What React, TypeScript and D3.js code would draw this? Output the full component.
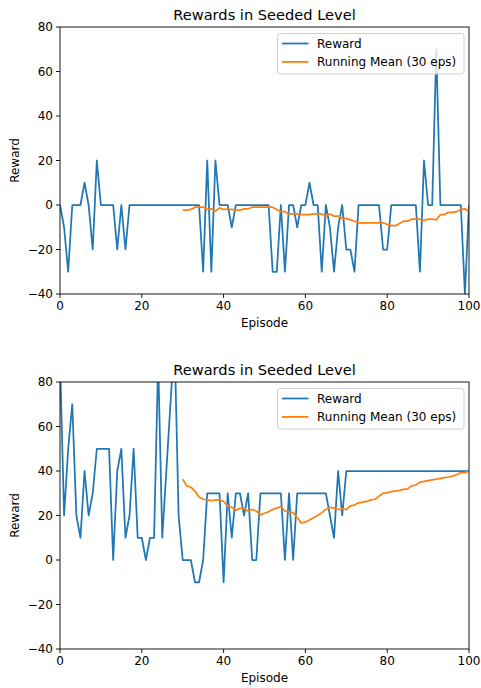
import { useEffect } from 'react'
import * as d3 from 'd3'

const title = 'Rewards in Seeded Level'
const xLabel = 'Episode'
const yLabel = 'Reward'
const legendLabels = ['Reward', 'Running Mean (30 eps)']
const xTicks = [0, 20, 40, 60, 80, 100]
const yTicks = [-40, -20, 0, 20, 40, 60, 80]
const meanStart = 30

// episode 0..100
const topReward = [
  0, -10, -30, 0, 0, 0, 10, 0, -20, 20,
  0, 0, 0, 0, -20, 0, -20, 0, 0, 0,
  0, 0, 0, 0, 0, 0, 0, 0, 0, 0,
  0, 0, 0, 0, 0, -30, 20, -30, 20, 0,
  0, 0, -10, 0, 0, 0, 0, 0, 0, 0,
  0, 0, -30, -30, 0, -30, 0, 0, -10, 0,
  0, 10, 0, 0, -30, 0, -10, -30, -10, 0,
  -20, -20, -30, 0, 0, 0, 0, 0, 0, -20,
  -20, 0, 0, 0, 0, 0, 0, 0, -30, 20,
  0, 0, 70, 0, 0, 0, 0, 0, 0, -40,
  0,
]

// episode 30..100
const topMean = [
  -2.3, -2.3, -2.0, -1.0, -1.0, -1.0, -2.0, -1.7, -2.7, -1.3,
  -2.0, -2.0, -2.0, -2.3, -2.3, -1.7, -1.7, -1.0, -1.0, -1.0,
  -1.0, -1.0, -1.0, -2.0, -3.0, -3.0, -4.0, -4.0, -4.0, -4.3,
  -4.3, -4.3, -4.0, -4.0, -4.0, -5.0, -4.0, -5.0, -5.0, -6.0,
  -6.0, -6.7, -7.3, -8.0, -8.0, -8.0, -8.0, -8.0, -8.0, -8.0,
  -8.7, -9.3, -9.3, -8.3, -7.3, -7.3, -6.3, -6.3, -6.3, -7.0,
  -6.3, -6.3, -6.7, -4.3, -4.3, -3.3, -3.3, -3.0, -2.0, -1.7,
  -3.0,
]

const bottomReward = [
  90, 20, 50, 70, 20, 10, 40, 20, 30, 50,
  50, 50, 50, 0, 40, 50, 10, 20, 50, 10,
  10, 0, 10, 10, 90, 10, 40, 70, 100, 20,
  0, 0, 0, -10, -10, 0, 30, 30, 30, 30,
  -10, 30, 10, 30, 30, 20, 30, 0, 0, 30,
  30, 30, 30, 30, 30, 0, 30, 0, 30, 30,
  30, 30, 30, 30, 30, 30, 20, 10, 40, 20,
  40, 40, 40, 40, 40, 40, 40, 40, 40, 40,
  40, 40, 40, 40, 40, 40, 40, 40, 40, 40,
  40, 40, 40, 40, 40, 40, 40, 40, 40, 40,
  40,
]

const bottomMean = [
  36.3, 33.3, 32.7, 31.0, 28.3, 27.3, 27.0, 26.7, 27.0, 27.0,
  26.3, 24.3, 23.7, 22.3, 23.3, 23.0, 22.0, 22.7, 22.0, 20.3,
  21.0, 21.7, 22.7, 23.3, 24.0, 22.0, 21.7, 21.3, 19.0, 16.7,
  17.0, 18.0, 19.0, 20.0, 21.3, 22.7, 23.7, 23.3, 22.7, 23.0,
  22.7, 24.3, 24.7, 25.7, 26.0, 26.3, 27.0, 27.3, 28.7, 30.0,
  30.3, 30.7, 31.0, 31.3, 31.7, 32.0, 33.3, 33.7, 35.0, 35.3,
  35.7, 36.0, 36.3, 36.7, 37.0, 37.3, 37.7, 38.3, 39.3, 39.3,
  40.0,
]

const blue = '#1f77b4'
const orange = '#ff7f0e'
const font = '"DejaVu Sans", sans-serif'

const left = 60
const right = 469
const plotH = 267
const fs = 12

const Panel = ({ top, reward, mean, id }: { top: number; reward: number[]; mean: number[]; id: string }) => {
  const x = d3.scaleLinear().domain([0, 100]).range([left, right])
  const y = d3.scaleLinear().domain([-40, 80]).range([top + plotH, top])
  const rewardLine = d3.line<number>().x((d, i) => x(i)).y(d => y(d))
  const meanLine = d3.line<number>().x((d, i) => x(i + meanStart)).y(d => y(d))
  const bottom = top + plotH
  const lx = 277.5
  const ly = top + 6.5

  return (
    <g>
      <defs>
        <clipPath id={id}>
          <rect x={left} y={top} width={right - left} height={plotH} />
        </clipPath>
      </defs>
      <text x={(left + right) / 2} y={top - 7} textAnchor="middle" fontSize={14.6}>{title}</text>
      <g clipPath={`url(#${id})`}>
        <path d={rewardLine(reward) ?? ''} fill="none" stroke={blue} strokeWidth={1.75} strokeLinejoin="round" />
        <path d={meanLine(mean) ?? ''} fill="none" stroke={orange} strokeWidth={1.75} strokeLinejoin="round" />
      </g>
      <rect x={left} y={top} width={right - left} height={plotH} fill="none" stroke="#000" strokeWidth={0.9} />
      {xTicks.map(t => (
        <g key={'x' + t}>
          <line x1={x(t)} x2={x(t)} y1={bottom} y2={bottom + 4} stroke="#000" strokeWidth={0.9} />
          <text x={x(t)} y={bottom + 16} textAnchor="middle" fontSize={fs}>{t}</text>
        </g>
      ))}
      {yTicks.map(t => (
        <g key={'y' + t}>
          <line x1={left - 4} x2={left} y1={y(t)} y2={y(t)} stroke="#000" strokeWidth={0.9} />
          <text x={left - 7} y={y(t) + 4.3} textAnchor="end" fontSize={fs}>{t < 0 ? '\u2212' + Math.abs(t) : t}</text>
        </g>
      ))}
      <text x={(left + right) / 2} y={bottom + 33} textAnchor="middle" fontSize={fs}>{xLabel}</text>
      <text transform={`translate(19,${top + plotH / 2}) rotate(-90)`} textAnchor="middle" fontSize={fs}>{yLabel}</text>
      <rect x={lx} y={ly} width={186.5} height={40.5} rx={2.5} fill="#fff" fillOpacity={0.8} stroke="#cccccc" strokeWidth={0.9} />
      {legendLabels.map((lab, i) => (
        <g key={lab}>
          <line x1={lx + 4.5} x2={lx + 31} y1={ly + 10 + i * 18.4} y2={ly + 10 + i * 18.4} stroke={i === 0 ? blue : orange} strokeWidth={1.75} />
          <text x={lx + 39.5} y={ly + 14.3 + i * 18.4} fontSize={fs}>{lab}</text>
        </g>
      ))}
    </g>
  )
}

const App = () => {
  useEffect(() => {
    document.body.style.margin = '0'
  }, [])
  return (
    <svg width={481} height={688} style={{ display: 'block', fontFamily: font }}>
      <rect width={481} height={688} fill="#fff" />
      <Panel top={27} reward={topReward} mean={topMean} id="clipTop" />
      <Panel top={382} reward={bottomReward} mean={bottomMean} id="clipBottom" />
    </svg>
  )
}

export default App
